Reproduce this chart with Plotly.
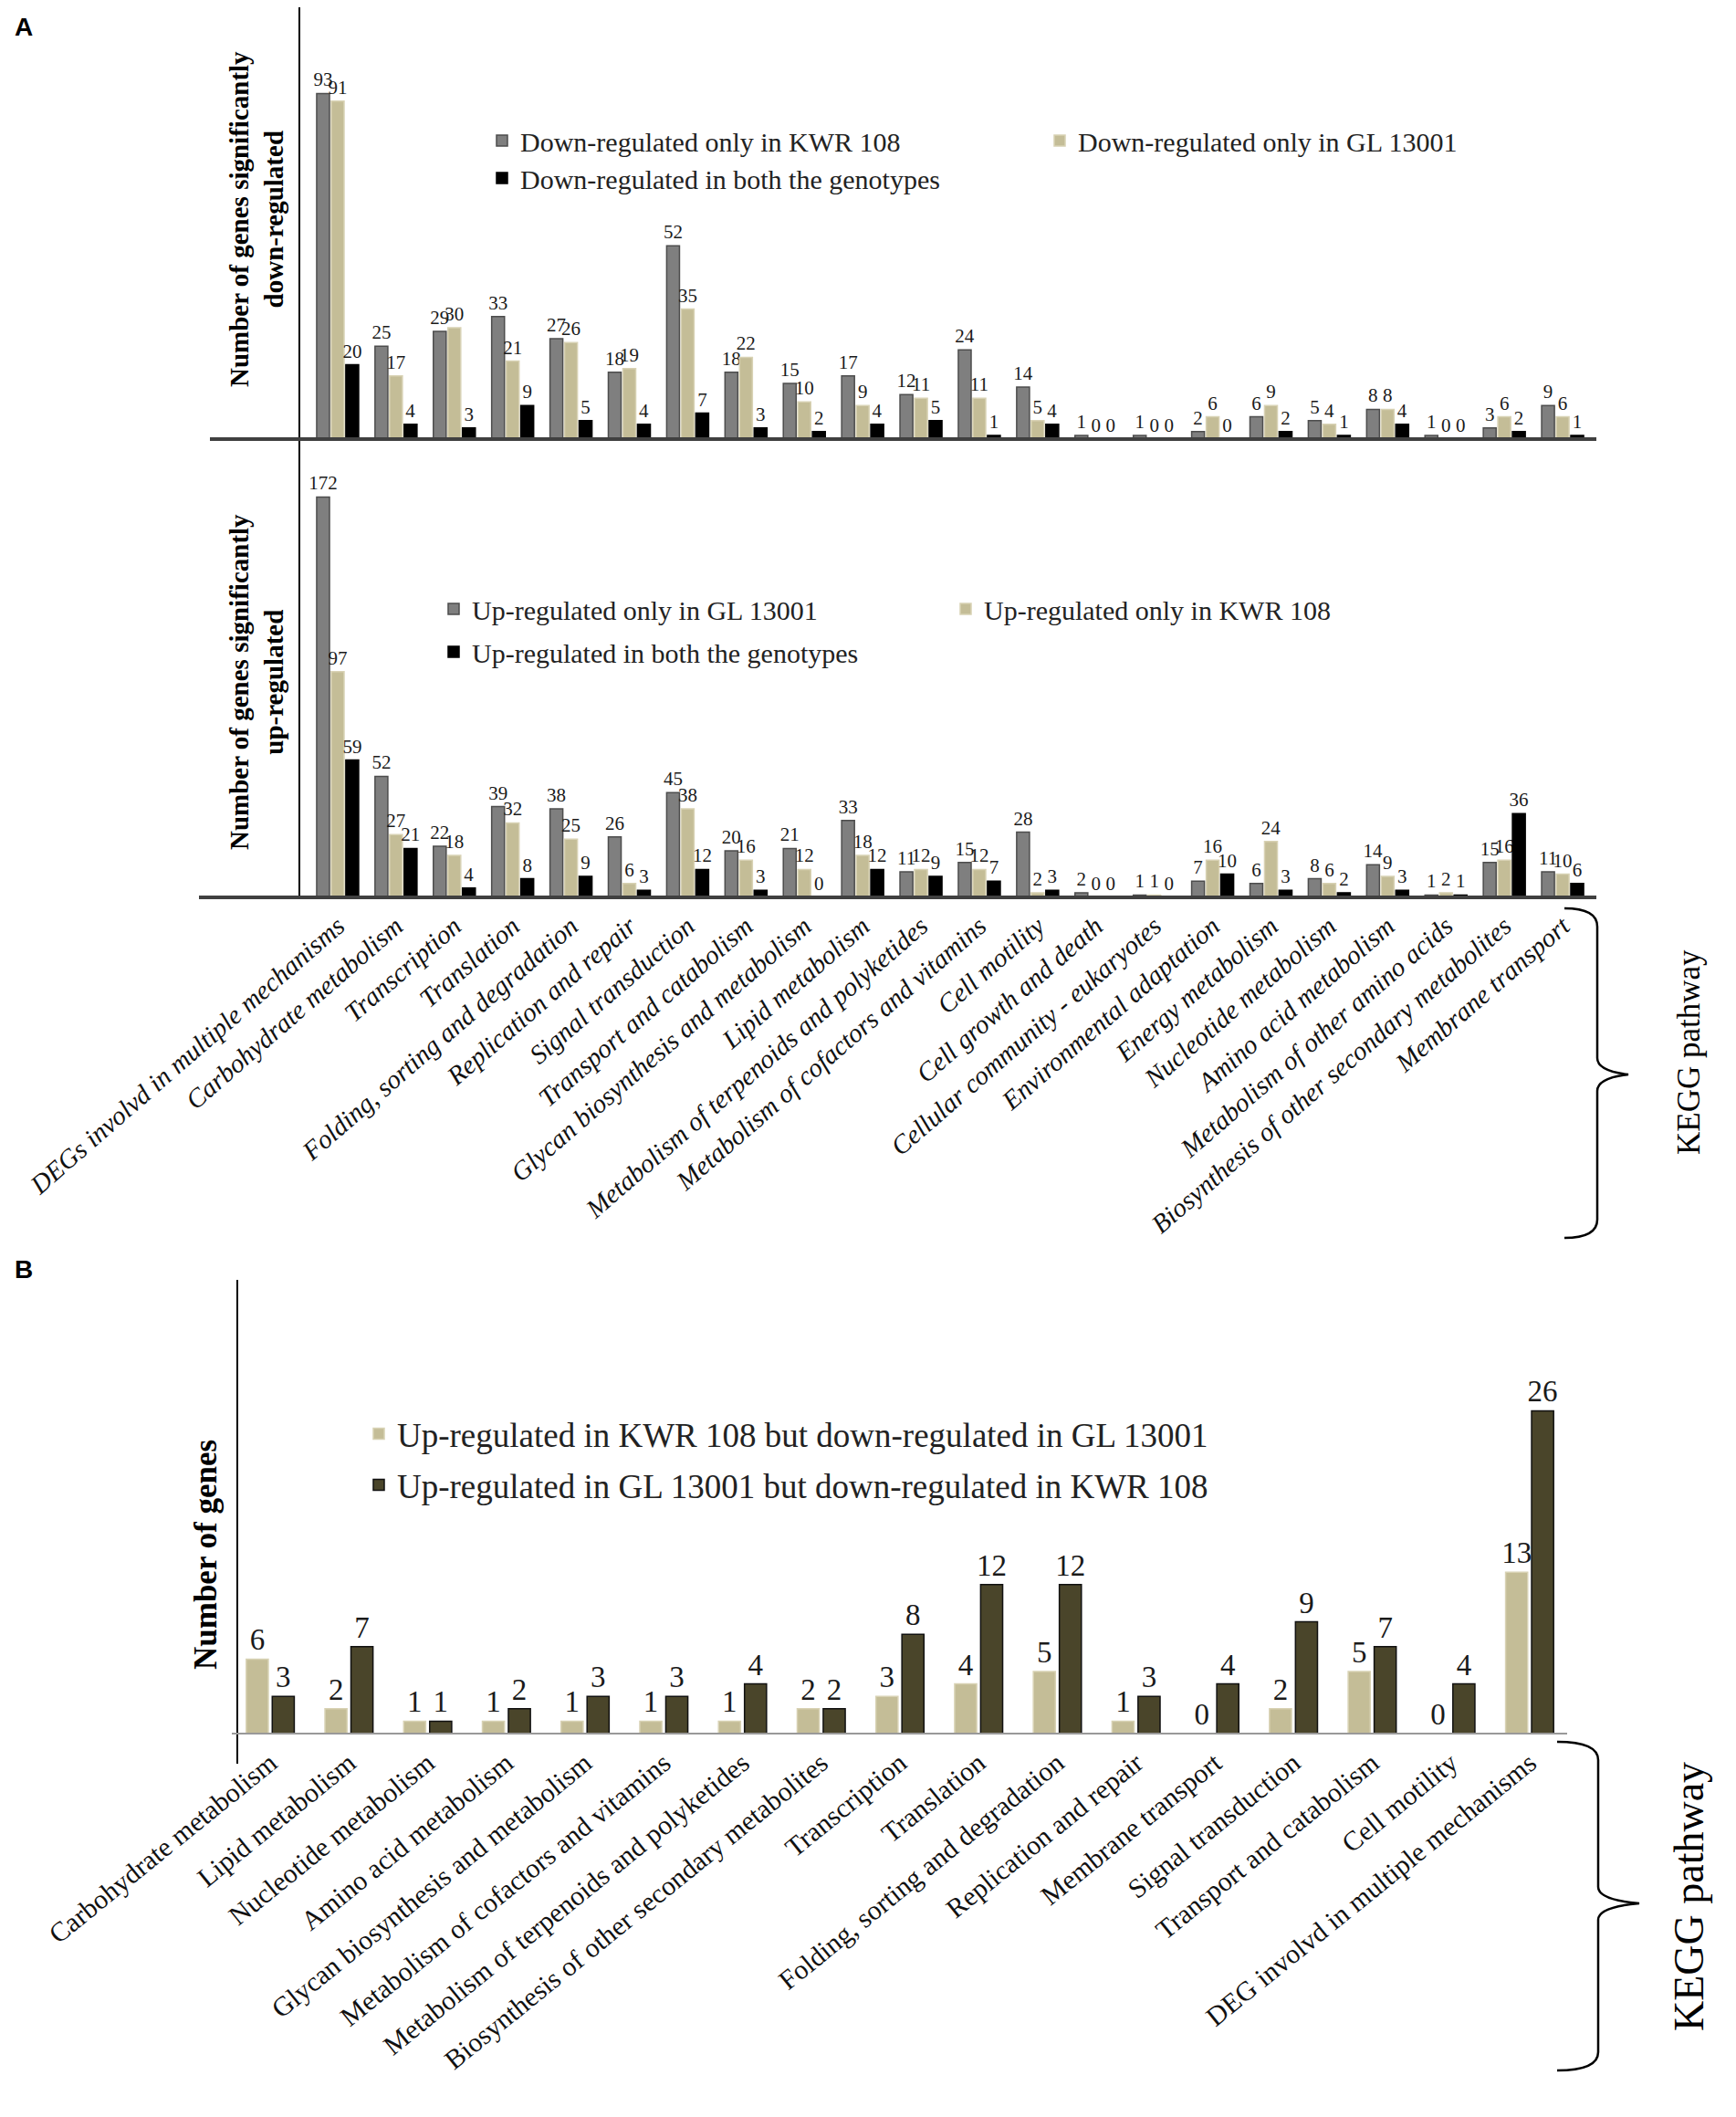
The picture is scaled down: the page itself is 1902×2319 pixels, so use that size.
import plotly.graph_objects as go

# ---------------- data ----------------
categories_a = [
    "DEGs involvd in multiple mechanisms", "Carbohydrate metabolism", "Transcription",
    "Translation", "Folding, sorting and degradation", "Replication and repair",
    "Signal transduction", "Transport and catabolism", "Glycan biosynthesis and metabolism",
    "Lipid metabolism", "Metabolism of terpenoids and polyketides",
    "Metabolism of cofactors and vitamins", "Cell motility", "Cell growth and death",
    "Cellular community - eukaryotes", "Environmental adaptation", "Energy metabolism",
    "Nucleotide metabolism", "Amino acid metabolism", "Metabolism of other amino acids",
    "Biosynthesis of other secondary metabolites", "Membrane transport",
]
down_only_kwr = [93, 25, 29, 33, 27, 18, 52, 18, 15, 17, 12, 24, 14, 1, 1, 2, 6, 5, 8, 1, 3, 9]
down_only_gl = [91, 17, 30, 21, 26, 19, 35, 22, 10, 9, 11, 11, 5, 0, 0, 6, 9, 4, 8, 0, 6, 6]
down_both = [20, 4, 3, 9, 5, 4, 7, 3, 2, 4, 5, 1, 4, 0, 0, 0, 2, 1, 4, 0, 2, 1]
up_only_gl = [172, 52, 22, 39, 38, 26, 45, 20, 21, 33, 11, 15, 28, 2, 1, 7, 6, 8, 14, 1, 15, 11]
up_only_kwr = [97, 27, 18, 32, 25, 6, 38, 16, 12, 18, 12, 12, 2, 0, 1, 16, 24, 6, 9, 2, 16, 10]
up_both = [59, 21, 4, 8, 9, 3, 12, 3, 0, 12, 9, 7, 3, 0, 0, 10, 3, 2, 3, 1, 36, 6]

categories_b = [
    "Carbohydrate metabolism", "Lipid metabolism", "Nucleotide metabolism",
    "Amino acid metabolism", "Glycan biosynthesis and metabolism",
    "Metabolism of cofactors and vitamins", "Metabolism of terpenoids and polyketides",
    "Biosynthesis of other secondary metabolites", "Transcription", "Translation",
    "Folding, sorting and degradation", "Replication and repair", "Membrane transport",
    "Signal transduction", "Transport and catabolism", "Cell motility",
    "DEG involvd in multiple mechanisms",
]
up_kwr_down_gl = [6, 2, 1, 1, 1, 1, 1, 2, 3, 4, 5, 1, 0, 2, 5, 0, 13]
up_gl_down_kwr = [3, 7, 1, 2, 3, 3, 4, 2, 8, 12, 12, 3, 4, 9, 7, 4, 26]

# ---------------- geometry helpers (reference pixels -> paper) ----------------
W, H = 1902, 2319
M = 8
PW, PH = W - 2 * M, H - 2 * M


def X(px):
    return min(1.0, max(0.0, (px - M) / PW))


def Y(py):
    return min(1.0, max(0.0, 1 - (py - M) / PH))


SERIF = "Liberation Serif"
GRAY, TAN, BLACK, DARK = "#7F7F7F", "#C4BD97", "#000000", "#4A452A"

fig = go.Figure()


def bar(x, y, name, color, line, xa, ya, leg, width, offset, tsize):
    fig.add_trace(go.Bar(
        x=x, y=y, name=name, text=y, textposition="outside", textangle=0,
        constraintext="none", cliponaxis=False,
        textfont=dict(family=SERIF, size=tsize, color="#1a1a1a"),
        marker=dict(color=color, line=dict(color=line, width=1.5)),
        width=width, offset=offset, xaxis=xa, yaxis=ya, legend=leg,
    ))


# Panel A top
bar(categories_a, down_only_kwr, "Down-regulated only in KWR 108", GRAY, "#4d4d4d", "x", "y", "legend", 0.22, -0.36, 21)
bar(categories_a, down_only_gl, "Down-regulated only in GL 13001", TAN, "#d8d2b4", "x", "y", "legend", 0.22, -0.11, 21)
bar(categories_a, down_both, "Down-regulated in both the genotypes", BLACK, BLACK, "x", "y", "legend2", 0.22, 0.14, 21)
# Panel A bottom
bar(categories_a, up_only_gl, "Up-regulated only in GL 13001", GRAY, "#4d4d4d", "x2", "y2", "legend3", 0.22, -0.36, 21)
bar(categories_a, up_only_kwr, "Up-regulated only in KWR 108", TAN, "#d8d2b4", "x2", "y2", "legend3", 0.22, -0.11, 21)
bar(categories_a, up_both, "Up-regulated in both the genotypes", BLACK, BLACK, "x2", "y2", "legend4", 0.22, 0.14, 21)
# Panel B
bar(categories_b, up_kwr_down_gl, "Up-regulated in KWR 108 but down-regulated in GL 13001", TAN, "#d8d2b4", "x3", "y3", "legend5", 0.28, -0.305, 33)
bar(categories_b, up_gl_down_kwr, "Up-regulated in GL 13001 but down-regulated in KWR 108", DARK, "#111111", "x3", "y3", "legend6", 0.28, 0.025, 33)

A_X0, A_X1 = 338, 1744
B_X0, B_X1 = 253, 1719
hidden = dict(showgrid=False, zeroline=False, showline=False, ticks="", automargin=False)

layout = dict(
    width=PW, height=PH, margin=dict(l=0, r=0, t=0, b=0, pad=0, autoexpand=False),
    template="none",
    paper_bgcolor="white", plot_bgcolor="rgba(0,0,0,0)",
    barmode="overlay", showlegend=True,
    xaxis=dict(domain=[X(A_X0), X(A_X1)], anchor="y", range=[-0.5, 21.5],
               showticklabels=False, **hidden),
    yaxis=dict(domain=[Y(481), Y(8)], anchor="x", range=[0, (481 - 8) / 4.07],
               showticklabels=False, **hidden),
    xaxis2=dict(domain=[X(A_X0), X(A_X1)], anchor="y2", range=[-0.5, 21.5],
                tickangle=-41, ticklabelstandoff=8,
                tickfont=dict(family=SERIF, size=29, style="italic", color="#111"), **hidden),
    yaxis2=dict(domain=[Y(983), Y(490)], anchor="x2", range=[0, (983 - 490) / 2.55],
                showticklabels=False, **hidden),
    xaxis3=dict(domain=[X(B_X0), X(B_X1)], anchor="y3", range=[-0.5, 16.5],
                tickangle=-39, ticklabelstandoff=8,
                tickfont=dict(family=SERIF, size=30, color="#111"), **hidden),
    yaxis3=dict(domain=[Y(1899), Y(1402)], anchor="x3", range=[0, (1899 - 1402) / 13.6],
                showticklabels=False, **hidden),
)

leg_common = dict(orientation="h", xanchor="left", yanchor="middle",
                  bgcolor="rgba(0,0,0,0)", itemwidth=30, entrywidthmode="pixels")
layout["legend"] = dict(x=X(530), y=Y(154), entrywidth=566, font=dict(family=SERIF, size=30, color="#222"), **leg_common)
layout["legend2"] = dict(x=X(530), y=Y(195), font=dict(family=SERIF, size=30, color="#222"), **leg_common)
layout["legend3"] = dict(x=X(477), y=Y(667), entrywidth=516, font=dict(family=SERIF, size=30, color="#222"), **leg_common)
layout["legend4"] = dict(x=X(477), y=Y(714), font=dict(family=SERIF, size=30, color="#222"), **leg_common)
layout["legend5"] = dict(x=X(395), y=Y(1571), font=dict(family=SERIF, size=37, color="#222"), **leg_common)
layout["legend6"] = dict(x=X(395), y=Y(1627), font=dict(family=SERIF, size=37, color="#222"), **leg_common)

fig.update_layout(**layout)

# ---------------- annotations ----------------
def note(text, px, py, size, family=SERIF, angle=0, xanchor="center"):
    return dict(text=text, x=X(px), y=Y(py), xref="paper", yref="paper", showarrow=False,
                xanchor=xanchor, yanchor="middle", textangle=angle,
                font=dict(family=family, size=size, color="black"))


ann = [
    note("<b>A</b>", 14, 30, 28, family="Liberation Sans", xanchor="left"),
    note("<b>B</b>", 14, 1390, 28, family="Liberation Sans", xanchor="left"),
    note("<b>Number of genes significantly<br>down-regulated</b>", 281, 240, 29, angle=-90),
    note("<b>Number of genes significantly<br>up-regulated</b>", 281, 747, 29, angle=-90),
    note("<b>Number of genes</b>", 225, 1703, 35, angle=-90),
    note("KEGG pathway", 1850, 1153, 35, angle=-90),
    note("KEGG pathway", 1850, 2078, 46, angle=-90),
]
fig.update_layout(annotations=ann)

# ---------------- shapes: axis lines, baselines, braces ----------------
shapes = []


def line(x0, y0, x1, y1, color, width):
    shapes.append(dict(type="line", xref="paper", yref="paper", x0=X(x0), y0=Y(y0),
                       x1=X(x1), y1=Y(y1), line=dict(color=color, width=width)))


line(328, 8, 328, 983, "black", 2)          # A y-axis
line(230, 481, 1749, 481, "#404040", 4)      # A top baseline
line(218, 983, 1749, 983, "#404040", 4)      # A bottom baseline
line(260, 1402, 260, 1932, "black", 2)       # B y-axis
line(254, 1899, 1717, 1899, "#999999", 2)    # B baseline


def brace(x0, xv, xp, top, mid, bot):
    pts = [
        ("M", [(x0, top)]),
        ("Q", [(xv, top), (xv, top + 20)]),
        ("L", [(xv, mid - 18)]),
        ("Q", [(xv, mid - 4), (xp, mid)]),
        ("Q", [(xv, mid + 4), (xv, mid + 18)]),
        ("L", [(xv, bot - 20)]),
        ("Q", [(xv, bot), (x0, bot)]),
    ]
    path = ""
    for cmd, ps in pts:
        path += cmd + " " + " ".join(f"{X(px):.5f},{Y(py):.5f}" for px, py in ps) + " "
    shapes.append(dict(type="path", xref="paper", yref="paper", path=path,
                       line=dict(color="black", width=2.5)))


brace(1714, 1750, 1784, 995, 1177, 1356)
brace(1706, 1751, 1796, 1908, 2085, 2268)

fig.update_layout(shapes=shapes)

fig.write_html("out.html")
